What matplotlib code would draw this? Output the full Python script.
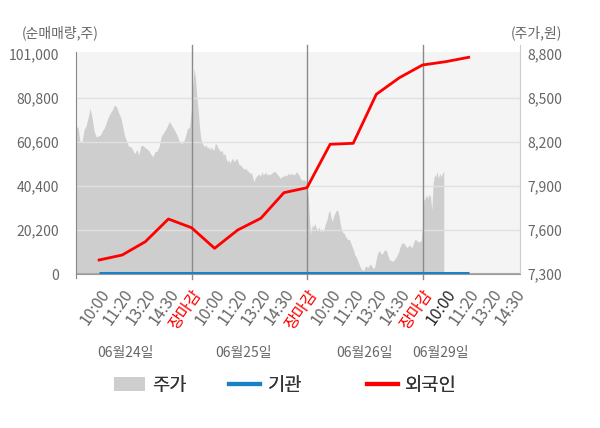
import numpy as np
import matplotlib
matplotlib.use('Agg')
import matplotlib.pyplot as plt
from matplotlib.patches import Patch
from matplotlib.lines import Line2D
from matplotlib.transforms import blended_transform_factory

plt.rcParams['font.family'] = ['Noto Sans CJK KR', 'DejaVu Sans']

# ---------------- data ----------------
x_labels = ['10:00', '11:20', '13:20', '14:30', '장마감',
            '10:00', '11:20', '13:20', '14:30', '장마감',
            '10:00', '11:20', '13:20', '14:30', '장마감',
            '10:00', '11:20', '13:20', '14:30']
dates = ['06월24일', '06월25일', '06월26일', '06월29일']

price_day1 = [8305, 8300, 8202, 8202, 8285, 8310, 8370, 8430, 8360, 8270,
              8235, 8240, 8248, 8275, 8297, 8335, 8372, 8400, 8420, 8452,
              8441, 8400, 8370, 8310, 8240, 8205, 8168, 8170, 8145, 8120,
              8150, 8111, 8176, 8177, 8163, 8152, 8140, 8115, 8100, 8134,
              8138, 8170, 8236, 8259, 8282, 8305, 8339, 8318, 8295, 8270,
              8241, 8202, 8189, 8200, 8237, 8293, 8298]
price_day2 = [8430, 8600, 8702, 8634, 8509, 8418, 8305, 8225, 8191, 8180,
              8168, 8180, 8157, 8168, 8145, 8168, 8145, 8150, 8191, 8180,
              8157, 8145, 8134, 8145, 8111, 8123, 8089, 8066, 8077, 8055,
              8077, 8089, 8066, 8077, 8089, 8066, 8043, 8043, 8032, 8020,
              8014, 8020, 8005, 7998, 7986, 7991, 7964, 7930, 7952, 7968,
              7975, 7982, 7964, 7998, 7975, 7986, 7991, 7975, 7982, 7975,
              7986, 7991, 7998, 7998, 7986, 7975, 7964, 7952, 7964, 7964,
              7975, 7968, 7975, 7986, 7975, 7986, 7982, 7975, 7982, 7998,
              7986, 7975, 7952, 7941, 7941, 7941, 7936]
price_day3 = [7895, 7827, 7645, 7577, 7634, 7623, 7645, 7611, 7600, 7623,
              7589, 7600, 7589, 7611, 7645, 7668, 7714, 7736, 7691, 7657,
              7691, 7714, 7732, 7736, 7702, 7645, 7600, 7582, 7577, 7555,
              7543, 7532, 7536, 7509, 7486, 7464, 7430, 7418, 7395, 7373,
              7350, 7332, 7327, 7327,
              7355, 7350, 7345, 7362, 7367, 7350, 7335, 7350, 7395, 7435,
              7458, 7452, 7435, 7441, 7458, 7466, 7455, 7424, 7400, 7393,
              7387, 7390, 7400, 7412, 7430, 7452, 7480, 7506, 7512, 7509,
              7497, 7480, 7487, 7498, 7487, 7480, 7503, 7532, 7535, 7523,
              7520, 7520, 7527]
price_day4 = [7623, 7805, 7816, 7839, 7816, 7845, 7827, 7736, 7918, 7975,
              7964, 7998, 7952, 7986, 7964, 7986, 7998]

foreign = [6430, 8720, 14830, 25250, 21260, 11800, 20200, 25570, 37330,
           39620, 59550, 60000, 82500, 90120, 95950, 97470, 99490]
institution = [600, 600, 600, 600, 600, 600, 600, 600, 600,
               600, 600, 600, 600, 600, 600, 600, 600]

left_ticks = [0, 20200, 40400, 60600, 80800, 101000]
right_ticks = [7300, 7600, 7900, 8200, 8500, 8800]

# ---------------- figure ----------------
fig = plt.figure(figsize=(6, 4.28), dpi=100)
ax = fig.add_axes([76 / 600, 1 - 274 / 428, 444 / 600, 229 / 428])
ax2 = ax.twinx()

XMAX = 19.22
P_TOP = 8861.4
P_BG = 8813.6
V_TOP = 105132
V_BG = 101918

# price area (right axis values, drawn on base axes)
days = [price_day1, price_day2, price_day3, price_day4]
xs, ps = [], []
for d, p in enumerate(days):
    n = len(p) if d < 3 else len(price_day3)
    xs.append(5 * d + np.arange(len(p)) * 5.0 / n)
    ps.append(np.array(p, dtype=float))
x_price = np.concatenate(xs)
price = np.concatenate(ps)

ax.axhspan(right_ticks[0], P_BG, color='#f4f4f4', zorder=0, lw=0)
ax.fill_between(x_price, right_ticks[0], price, color='#cecece', lw=0, zorder=1)
for v in right_ticks[1:-1]:
    ax.axhline(v, color='#e0e0e0', lw=1, zorder=2)
for b in [5, 10, 15]:
    ax.axvline(b, ymin=-0.02, ymax=1, color='#8a8a8a', lw=1, zorder=3, clip_on=False)

ax.set_xlim(0, XMAX)
ax.set_ylim(right_ticks[0], P_TOP)
ax.set_yticks(right_ticks)
ax.set_yticklabels([f'{v:,}' for v in right_ticks])
ax.yaxis.tick_right()
ax.tick_params(axis='y', length=0, pad=5, labelsize=10, labelcolor='#666666')

ax.set_xticks(range(1, 20))
ax.set_xticklabels(x_labels, rotation=55, ha='right', va='top',
                   rotation_mode='anchor', fontsize=11.5)
for i, t in enumerate(ax.get_xticklabels()):
    if x_labels[i] == '장마감':
        t.set_color('#ff0000')
    elif i == 15:
        t.set_color('#222222')
    else:
        t.set_color('#666666')
ax.tick_params(axis='x', length=0, pad=9)

for s in ['top', 'left']:
    ax.spines[s].set_visible(False)
ax.spines['right'].set_color('#cccccc')
ax.spines['bottom'].set_color('#999999')

# net buying lines (left axis)
k = np.arange(1, len(foreign) + 1)
ax2.axhline(institution[0], color='#aaaaaa', lw=0.8, zorder=1)
ax2.plot(k, institution, color='#1a80c8', lw=2.2, zorder=3, solid_capstyle='butt')
ax2.plot(k, foreign, color='#ff0000', lw=2.0, zorder=4)
ax2.set_ylim(0, V_TOP)
ax2.set_yticks(left_ticks)
ax2.set_yticklabels([f'{v:,}' for v in left_ticks])
ax2.yaxis.tick_left()
ax2.tick_params(axis='y', length=0, pad=12, labelsize=10, labelcolor='#666666')
for s in ['top', 'right', 'bottom']:
    ax2.spines[s].set_visible(False)
ax2.spines['left'].set_color('#888888')
ax2.spines['left'].set_bounds(-1900, V_BG)

# date labels
date_pos = [2.12, 7.27, 12.5, 15.76]
tr = blended_transform_factory(ax.transData, fig.transFigure)
for xp, d in zip(date_pos, dates):
    ax.text(xp, 1 - 353 / 428, d, transform=tr, ha='center', va='center',
            fontsize=10, color='#666666')

# axis titles
fig.text(22 / 600, 1 - 33 / 428, '(순매매량,주)', ha='left', va='center',
         fontsize=10, color='#666666')
fig.text(562 / 600, 1 - 33 / 428, '(주가,원)', ha='right', va='center',
         fontsize=10, color='#666666')

# legend (three single-entry legends placed like the reference)
handles = [Patch(facecolor='#cecece', edgecolor='none'),
           Line2D([], [], color='#1a80c8', lw=3),
           Line2D([], [], color='#ff0000', lw=3)]
names = ['주가', '기관', '외국인']
legend_x = [114, 229, 367]
for h, nm, lx in zip(handles, names, legend_x):
    lg = fig.legend([h], [nm], loc='center left',
                    bbox_to_anchor=(lx / 600, 1 - 385 / 428), frameon=False,
                    fontsize=13.5, labelcolor='#333333', handlelength=1.65,
                    handletextpad=0.4, handleheight=0.75, borderpad=0,
                    borderaxespad=0)
    fig.add_artist(lg)

fig.savefig('out.png', dpi=100)
